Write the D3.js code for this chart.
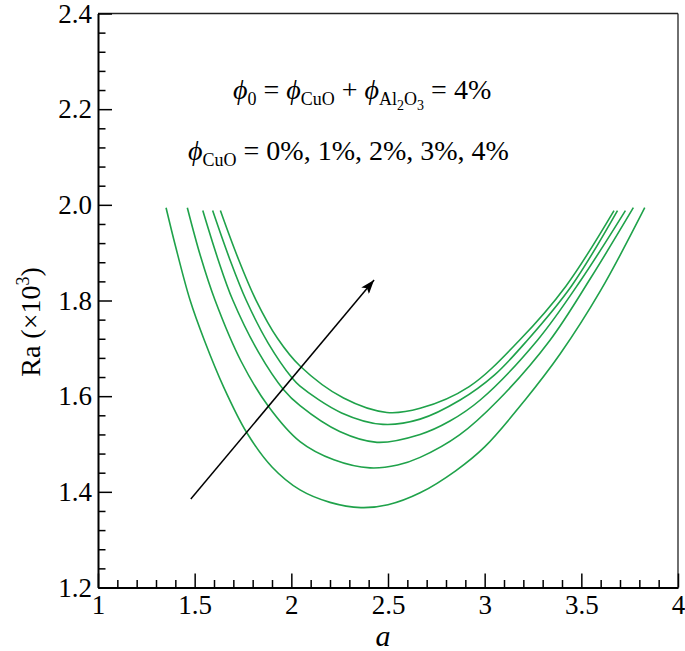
<!DOCTYPE html>
<html>
<head>
<meta charset="utf-8">
<script src="https://cdn.jsdelivr.net/npm/d3@7"></script>
<style>
  body { margin: 0; background: #fff; }
  svg text { font-family: "Liberation Serif", "Times New Roman", Times, serif; fill: #000; }
</style>
</head>
<body>
<div id="chart"></div>
<script>
// Critical Ra (x10^3) vs wavenumber a
const phiCuO = ["0%", "1%", "2%", "3%", "4%"];

const curve0 = [[1.352, 1.994], [1.40, 1.915], [1.476, 1.801], [1.55, 1.717], [1.65, 1.619], [1.769, 1.524], [1.90, 1.452], [2.045, 1.404], [2.20, 1.378], [2.36, 1.367], [2.50, 1.373], [2.666, 1.398], [2.85, 1.444], [3.0, 1.494], [3.209, 1.592], [3.39, 1.688], [3.60, 1.821], [3.828, 1.994]];
const curve1 = [[1.462, 1.994], [1.53, 1.893], [1.605, 1.801], [1.74, 1.673], [1.881, 1.579], [2.045, 1.505], [2.22, 1.467], [2.407, 1.450], [2.55, 1.456], [2.666, 1.472], [2.87, 1.519], [3.071, 1.592], [3.338, 1.717], [3.55, 1.848], [3.769, 1.994]];
const curve2 = [[1.542, 1.988], [1.62, 1.887], [1.697, 1.801], [1.83, 1.692], [1.959, 1.614], [2.045, 1.580], [2.25, 1.526], [2.443, 1.5035], [2.666, 1.520], [2.82, 1.548], [2.977, 1.592], [3.273, 1.717], [3.50, 1.844], [3.728, 1.988]];
const curve3 = [[1.593, 1.988], [1.68, 1.888], [1.766, 1.801], [1.88, 1.711], [2.002, 1.639], [2.045, 1.621], [2.26, 1.565], [2.474, 1.541], [2.666, 1.552], [2.873, 1.592], [3.05, 1.644], [3.221, 1.717], [3.45, 1.831], [3.687, 1.988]];
const curve4 = [[1.633, 1.988], [1.72, 1.893], [1.817, 1.801], [1.93, 1.720], [2.045, 1.663], [2.27, 1.596], [2.494, 1.566], [2.666, 1.5746], [2.92, 1.620], [3.18, 1.717], [3.42, 1.830], [3.669, 1.988]];
const curves = [curve0, curve1, curve2, curve3, curve4];

const arrowPts = [[1.480, 1.385], [2.428, 1.843]];

const xMajor = [1, 1.5, 2, 2.5, 3, 3.5, 4];
const yMajor = [1.2, 1.4, 1.6, 1.8, 2.0, 2.2, 2.4];

const width = 685, height = 651;
const serif = "Liberation Serif, Times New Roman, serif";
const svg = d3.select("#chart").append("svg")
  .attr("width", width)
  .attr("height", height);

const x = d3.scaleLinear().domain([1, 4]).range([98, 678]);
const y = d3.scaleLinear().domain([1.2, 2.4]).range([587.5, 13.5]);

// frame: top and right plain lines
svg.append("line")
  .attr("x1", x(1)).attr("x2", x(4))
  .attr("y1", y(2.4)).attr("y2", y(2.4))
  .attr("stroke", "#222").attr("stroke-width", 1.3);
svg.append("line")
  .attr("x1", x(4)).attr("x2", x(4))
  .attr("y1", y(2.4)).attr("y2", y(1.2))
  .attr("stroke", "#222").attr("stroke-width", 1.3);

// minor ticks
const xMinor = d3.range(1, 4.001, 0.1).map(d => +d.toFixed(2)).filter(d => !xMajor.includes(d));
const yMinor = d3.range(1.2, 2.401, 0.04).map(d => +d.toFixed(2)).filter(d => !yMajor.includes(d));

svg.append("g")
  .attr("transform", `translate(0,${y(1.2)})`)
  .call(d3.axisBottom(x).tickValues(xMinor).tickSize(-7.5).tickFormat(""))
  .call(g => g.select(".domain").remove())
  .selectAll("line").attr("stroke-width", 1.5);

svg.append("g")
  .attr("transform", `translate(${x(1)},0)`)
  .call(d3.axisLeft(y).tickValues(yMinor).tickSize(-7.5).tickFormat(""))
  .call(g => g.select(".domain").remove())
  .selectAll("line").attr("stroke-width", 1.5);

// major axes
const xAxis = svg.append("g")
  .attr("transform", `translate(0,${y(1.2)})`)
  .call(d3.axisBottom(x).tickValues(xMajor).tickSizeInner(-14).tickSizeOuter(0)
    .tickPadding(7).tickFormat(d3.format("")));
xAxis.attr("font-family", serif);
xAxis.select(".domain").attr("stroke-width", 2);
xAxis.selectAll("line").attr("stroke-width", 1.5);
xAxis.selectAll("text").attr("font-size", 27);

const yAxis = svg.append("g")
  .attr("transform", `translate(${x(1)},0)`)
  .call(d3.axisLeft(y).tickValues(yMajor).tickSizeInner(-14).tickSizeOuter(0)
    .tickPadding(6).tickFormat(d3.format(".1f")));
yAxis.attr("font-family", serif);
yAxis.select(".domain").attr("stroke-width", 2);
yAxis.selectAll("line").attr("stroke-width", 1.5);
yAxis.selectAll("text").attr("font-size", 27);

// curves
const line = d3.line()
  .x(d => x(d[0]))
  .y(d => y(d[1]))
  .curve(d3.curveCatmullRom.alpha(0.5));

svg.append("g").selectAll("path")
  .data(curves)
  .join("path")
  .attr("d", line)
  .attr("fill", "none")
  .attr("stroke", "#1fa24a")
  .attr("stroke-width", 1.6);

// arrow
svg.append("defs").append("marker")
  .attr("id", "head")
  .attr("viewBox", "0 0 14 10")
  .attr("refX", 14).attr("refY", 5)
  .attr("markerWidth", 14).attr("markerHeight", 10)
  .attr("markerUnits", "userSpaceOnUse")
  .attr("orient", "auto")
  .append("path")
  .attr("d", "M0,0 L14,5 L0,10 L3,5 Z")
  .attr("fill", "#000");

svg.append("line")
  .attr("x1", x(arrowPts[0][0])).attr("y1", y(arrowPts[0][1]))
  .attr("x2", x(arrowPts[1][0])).attr("y2", y(arrowPts[1][1]))
  .attr("stroke", "#000").attr("stroke-width", 1.5)
  .attr("marker-end", "url(#head)");

// annotations
const t1 = svg.append("text").attr("x", 233).attr("y", 99).attr("font-size", 28);
t1.append("tspan").attr("font-style", "italic").text("ϕ");
t1.append("tspan").attr("font-size", 18).attr("dy", 6).text("0");
t1.append("tspan").attr("dy", -6).text(" = ");
t1.append("tspan").attr("font-style", "italic").text("ϕ");
t1.append("tspan").attr("font-size", 18).attr("dy", 6).text("CuO");
t1.append("tspan").attr("dy", -6).text(" + ");
t1.append("tspan").attr("font-style", "italic").text("ϕ");
t1.append("tspan").attr("font-size", 18).attr("dy", 6).text("Al");
t1.append("tspan").attr("font-size", 14).attr("dy", 5).text("2");
t1.append("tspan").attr("font-size", 18).attr("dy", -5).text("O");
t1.append("tspan").attr("font-size", 14).attr("dy", 5).text("3");
t1.append("tspan").attr("dy", -11).text(" = 4%");

const t2 = svg.append("text").attr("x", 188).attr("y", 160).attr("font-size", 28);
t2.append("tspan").attr("font-style", "italic").text("ϕ");
t2.append("tspan").attr("font-size", 18).attr("dy", 6).text("CuO");
t2.append("tspan").attr("dy", -6).text(" = " + phiCuO.join(", "));

// axis titles
const yl = svg.append("text")
  .attr("transform", "translate(40,322) rotate(-90)")
  .attr("text-anchor", "middle")
  .attr("font-size", 28);
yl.append("tspan").text("Ra (×10");
yl.append("tspan").attr("font-size", 18).attr("dy", -11).text("3");
yl.append("tspan").attr("dy", 11).text(")");

svg.append("text")
  .attr("x", 383).attr("y", 646)
  .attr("text-anchor", "middle")
  .attr("font-size", 30)
  .attr("font-style", "italic")
  .text("a");
</script>
</body>
</html>
